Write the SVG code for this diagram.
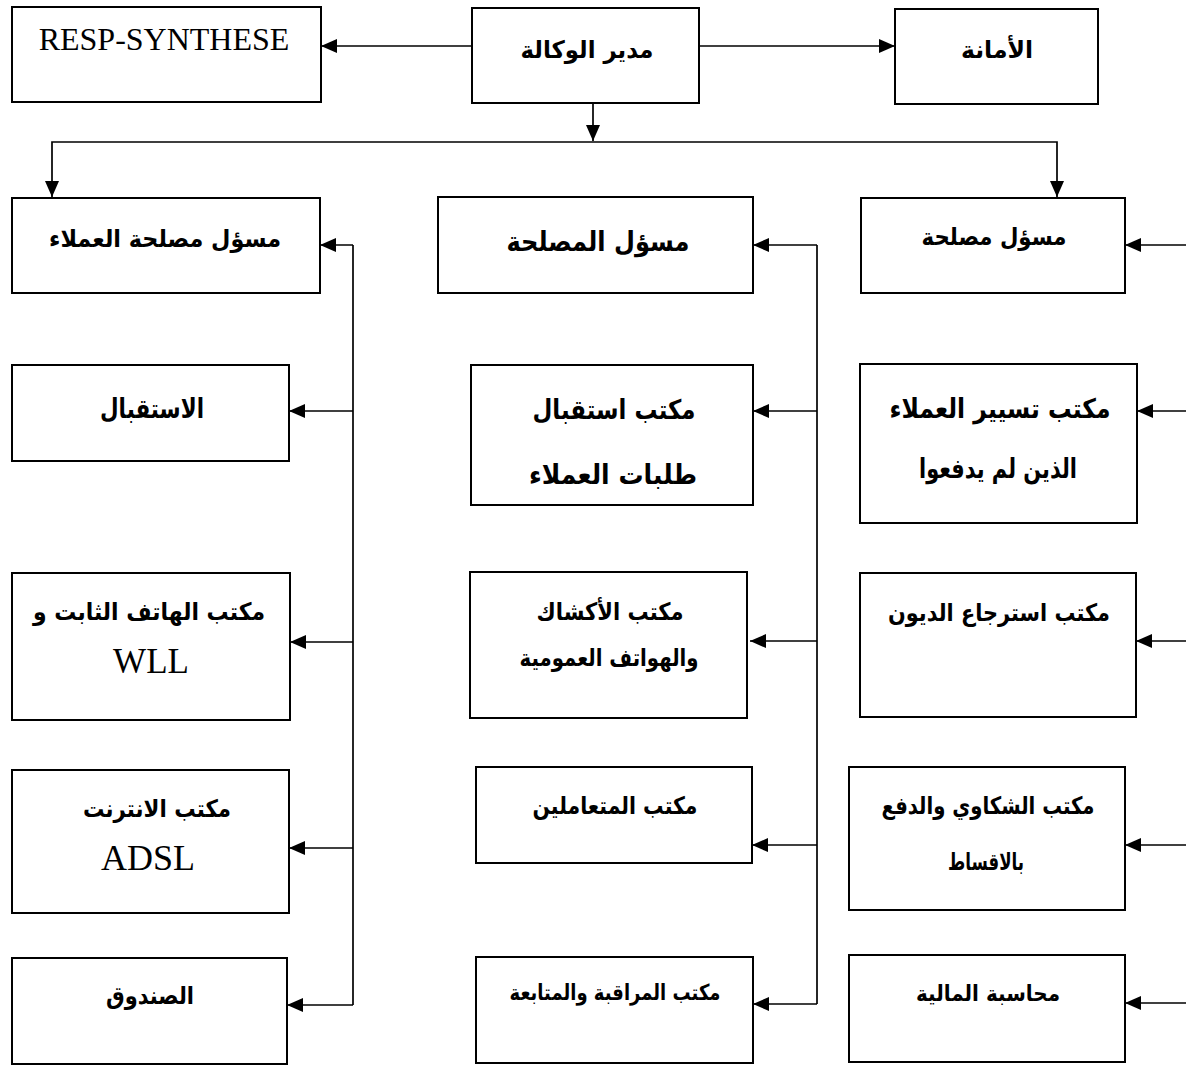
<svg xmlns="http://www.w3.org/2000/svg" width="1186" height="1066" viewBox="0 0 1186 1066">
<defs>
<marker id="ah" markerUnits="userSpaceOnUse" markerWidth="16" markerHeight="14" refX="16" refY="7" orient="auto">
<path d="M0,0 L16,7 L0,14 z" fill="#000"/>
</marker>
<style>
.box{fill:#fff;stroke:#000;stroke-width:2}
.ln{fill:none;stroke:#000;stroke-width:1.7}
.ar{marker-end:url(#ah)}
.t{font-family:"DejaVu Sans",sans-serif;font-weight:bold;text-anchor:middle;fill:#000}
.s{font-size:22px}
.m{font-size:24px}
.l{font-size:27px}
.lat{font-family:"Liberation Serif","Times New Roman",serif;text-anchor:middle;fill:#000}
</style>
</defs>
<rect width="1186" height="1066" fill="#fff"/>
<g id="connectors">
<path class="ln ar" d="M472,46 H321"/>
<path class="ln ar" d="M699,46 H895"/>
<path class="ln ar" d="M593,103 V141"/>
<path class="ln ar" d="M593,142 H52 V197"/>
<path class="ln ar" d="M593,142 H1057 V197"/>
<path class="ln" d="M353,245 V1005"/>
<path class="ln ar" d="M353,245 H320"/>
<path class="ln ar" d="M353,411 H289"/>
<path class="ln ar" d="M353,642 H290"/>
<path class="ln ar" d="M353,848 H289"/>
<path class="ln ar" d="M353,1005 H287"/>
<path class="ln" d="M817,245 V1004"/>
<path class="ln ar" d="M817,245 H753"/>
<path class="ln ar" d="M817,411 H753"/>
<path class="ln ar" d="M817,641 H750"/>
<path class="ln ar" d="M817,845 H752"/>
<path class="ln ar" d="M817,1004 H753"/>
<path class="ln ar" d="M1186,245 H1125"/>
<path class="ln ar" d="M1186,411 H1137"/>
<path class="ln ar" d="M1186,641 H1136"/>
<path class="ln ar" d="M1186,845 H1125"/>
<path class="ln ar" d="M1186,1003 H1125"/>
</g>
<g id="resp-synthese"><rect class="box" x="12" y="7" width="309" height="95"/><text class="lat" x="164" y="50" font-size="32">RESP-SYNTHESE</text></g>
<g id="mudir"><rect class="box" x="472" y="8" width="227" height="95"/><text class="t m" x="587" y="58" textLength="133" lengthAdjust="spacingAndGlyphs">مدير الوكالة</text></g>
<g id="amana"><rect class="box" x="895" y="9" width="203" height="95"/><text class="t m" x="997" y="58" textLength="72" lengthAdjust="spacingAndGlyphs">الأمانة</text></g>
<g id="c1-head"><rect class="box" x="12" y="198" width="308" height="95"/><text class="t m" x="165" y="247" textLength="232" lengthAdjust="spacingAndGlyphs">مسؤل مصلحة العملاء</text></g>
<g id="c2-head"><rect class="box" x="438" y="197" width="315" height="96"/><text class="t l" x="598" y="251" textLength="183" lengthAdjust="spacingAndGlyphs">مسؤل المصلحة</text></g>
<g id="c3-head"><rect class="box" x="861" y="198" width="264" height="95"/><text class="t m" x="994" y="245" textLength="145" lengthAdjust="spacingAndGlyphs">مسؤل مصلحة</text></g>
<g id="istiqbal"><rect class="box" x="12" y="365" width="277" height="96"/><text class="t l" x="152" y="418" textLength="104" lengthAdjust="spacingAndGlyphs">الاستقبال</text></g>
<g id="maktab-istiqbal"><rect class="box" x="471" y="365" width="282" height="140"/><text class="t l" x="614" y="419" textLength="163" lengthAdjust="spacingAndGlyphs">مكتب استقبال</text><text class="t l" x="613" y="484" textLength="168" lengthAdjust="spacingAndGlyphs">طلبات العملاء</text></g>
<g id="tasyeer"><rect class="box" x="860" y="364" width="277" height="159"/><text class="t l" x="1000" y="418" textLength="221" lengthAdjust="spacingAndGlyphs">مكتب تسيير العملاء</text><text class="t l" x="998" y="478" textLength="158" lengthAdjust="spacingAndGlyphs">الذين لم يدفعوا</text></g>
<g id="hatif"><rect class="box" x="12" y="573" width="278" height="147"/><text class="t m" x="149" y="620" textLength="232" lengthAdjust="spacingAndGlyphs">مكتب الهاتف الثابت و</text><text class="lat" x="151" y="673" font-size="35">WLL</text></g>
<g id="akshak"><rect class="box" x="470" y="572" width="277" height="146"/><text class="t m" x="610" y="620" textLength="147" lengthAdjust="spacingAndGlyphs">مكتب الأكشاك</text><text class="t m" x="609" y="666" textLength="179" lengthAdjust="spacingAndGlyphs">والهواتف العمومية</text></g>
<g id="istirja"><rect class="box" x="860" y="573" width="276" height="144"/><text class="t m" x="999" y="621" textLength="222" lengthAdjust="spacingAndGlyphs">مكتب استرجاع الديون</text></g>
<g id="internet"><rect class="box" x="12" y="770" width="277" height="143"/><text class="t m" x="157" y="817" textLength="148" lengthAdjust="spacingAndGlyphs">مكتب الانترنت</text><text class="lat" x="148" y="870" font-size="36">ADSL</text></g>
<g id="mutaamilin"><rect class="box" x="476" y="767" width="276" height="96"/><text class="t m" x="615" y="814" textLength="165" lengthAdjust="spacingAndGlyphs">مكتب المتعاملين</text></g>
<g id="shakawi"><rect class="box" x="849" y="767" width="276" height="143"/><text class="t m" x="988" y="814" textLength="213" lengthAdjust="spacingAndGlyphs">مكتب الشكاوي والدفع</text><text class="t m" x="986" y="870" textLength="76" lengthAdjust="spacingAndGlyphs">بالاقساط</text></g>
<g id="sundooq"><rect class="box" x="12" y="958" width="275" height="106"/><text class="t m" x="150" y="1004" textLength="88" lengthAdjust="spacingAndGlyphs">الصندوق</text></g>
<g id="muraqaba"><rect class="box" x="476" y="957" width="277" height="106"/><text class="t s" x="615" y="1000" textLength="211" lengthAdjust="spacingAndGlyphs">مكتب المراقبة والمتابعة</text></g>
<g id="muhasaba"><rect class="box" x="849" y="955" width="276" height="107"/><text class="t s" x="988" y="1001" textLength="144" lengthAdjust="spacingAndGlyphs">محاسبة المالية</text></g>
</svg>
